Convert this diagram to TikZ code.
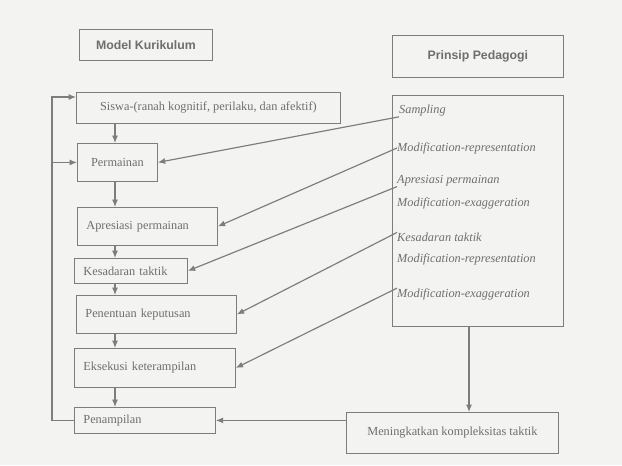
\documentclass[tikz,border=0pt]{standalone}
\usepackage{fontspec}
\setmainfont{Liberation Serif}
\newfontfamily\judul{Liberation Sans}
\usetikzlibrary{arrows.meta}
\definecolor{abu}{RGB}{125,125,125}
\definecolor{tulisan}{RGB}{110,110,110}
\definecolor{kertas}{RGB}{243,243,241}

\begin{document}
\begin{tikzpicture}[x=0.03cm,y=-0.03cm,>={Latex[length=2.2mm,width=1.8mm]},
  kotak/.style={draw=abu,line width=0.7pt,text=tulisan,inner sep=0pt,anchor=north west,
    font=\fontsize{10.5}{12}\selectfont},
  kotakkiri/.style={kotak,align=left,inner xsep=0.27cm},
  kepala/.style={kotak,font=\judul\bfseries\fontsize{10.5}{12}\selectfont},
  prinsip/.style={text=tulisan,inner sep=0pt,anchor=west,font=\itshape\fontsize{10.5}{12}\selectfont},
  garis/.style={draw=abu,line width=1pt}]
\fill[kertas] (0,0) rectangle (622,465);

\node[kepala,minimum width=3.99cm,minimum height=0.93cm] (kurikulum) at (79,29) {Model Kurikulum};
\node[kepala,minimum width=5.13cm,minimum height=1.26cm] (pedagogi) at (392,35) {Prinsip Pedagogi};

% model kurikulum
\node[kotak,minimum width=7.92cm,minimum height=0.93cm] (siswa) at (76,92) {Siswa-(ranah kognitif, perilaku, dan afektif)};
\node[kotak,minimum width=2.40cm,minimum height=1.14cm] (permainan) at (77,143) {Permainan};
\node[kotakkiri,text width=3.66cm,minimum height=1.14cm] (apresiasi) at (77,207) {Apresiasi permainan};
\node[kotakkiri,text width=2.85cm,minimum height=0.75cm] (kesadaran) at (74,258) {Kesadaran taktik};
\node[kotakkiri,text width=4.26cm,minimum height=1.14cm] (penentuan) at (76,295) {Penentuan keputusan};
\node[kotakkiri,text width=4.29cm,minimum height=1.17cm] (eksekusi) at (74,348) {Eksekusi keterampilan};
\node[kotakkiri,text width=3.69cm,minimum height=0.78cm] (penampilan) at (74,407) {Penampilan};

% prinsip pedagogi
\node[kotak,minimum width=5.13cm,minimum height=6.93cm] (kolom) at (392,95) {};
\node[prinsip] (p1) at (399,111) {Sampling};
\node[prinsip] (p2) at (397,148) {Modification-representation};
\node[prinsip] (p3) at (397,181) {Apresiasi permainan};
\node[prinsip] (p4) at (397,203) {Modification-exaggeration};
\node[prinsip] (p5) at (397,237) {Kesadaran taktik};
\node[prinsip] (p6) at (397,259) {Modification-representation};
\node[prinsip] (p7) at (397,294) {Modification-exaggeration};
\node[kotak,minimum width=6.36cm,minimum height=1.23cm] (kompleks) at (346,412) {Meningkatkan kompleksitas taktik};

\coordinate (tengah) at (115,0);
\coordinate (balik) at (52,0);
\coordinate (turun) at (469,0);
\coordinate (masuk) at ([yshift=-0.15cm]siswa.north west);

\draw[garis,->] (siswa.south -| tengah) -- (permainan.north -| tengah);
\draw[garis,->] (permainan.south -| tengah) -- (apresiasi.north -| tengah);
\draw[garis,->] (apresiasi.south -| tengah) -- (kesadaran.north -| tengah);
\draw[garis,->] (kesadaran.south -| tengah) -- (penentuan.north -| tengah);
\draw[garis,->] (penentuan.south -| tengah) -- (eksekusi.north -| tengah);
\draw[garis,->] (eksekusi.south -| tengah) -- (penampilan.north -| tengah);

\draw[garis,->] (penampilan.west) -| (balik |- masuk) -- (masuk);
\draw[garis,->] (balik |- permainan.west) -- (permainan.west);

\draw[garis,->] (p1.south west) -- (permainan.east);
\draw[garis,->] (p2.west) -- (apresiasi.east);
\draw[garis,->] (p3.south west) -- (kesadaran.east);
\draw[garis,->] (p5.north west) -- (penentuan.east);
\draw[garis,->] (p7.north west) -- (eksekusi.east);

\draw[garis,->] (kolom.south -| turun) -- (kompleks.north -| turun);
\draw[garis,->] (kompleks.west |- penampilan.east) -- (penampilan.east);
\end{tikzpicture}
\end{document}
